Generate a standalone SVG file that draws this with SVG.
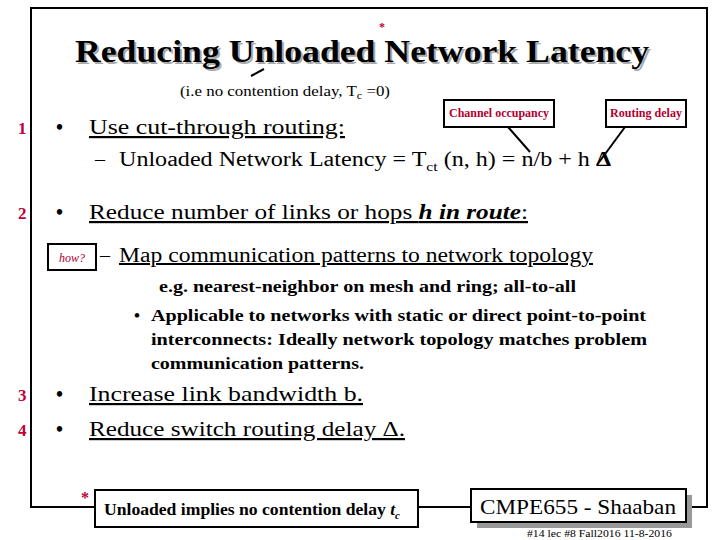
<svg xmlns="http://www.w3.org/2000/svg" width="720" height="540" viewBox="0 0 720 540" font-family="'Liberation Serif', 'Times New Roman', Times, serif">
<style>
text{font-family:'Liberation Serif','Times New Roman',Times,serif}
.b{font-weight:bold}
.num{fill:#c0003a;font-weight:bold;font-size:17px}
.h{font-size:22px;text-decoration:underline}
.red{fill:#b00030;font-weight:bold;font-size:12px}
.box{fill:#fff;stroke:#000;stroke-width:2}
.ln{stroke:#000;stroke-width:2;fill:none}
</style>
<rect x="31" y="8" width="676" height="499" class="ln" stroke-width="3"/>
<g id="title">
<text x="364" y="64" text-anchor="middle" font-size="32" class="b" fill="#aaa" textLength="574" lengthAdjust="spacingAndGlyphs">Reducing Unloaded Network Latency</text>
<text x="362" y="62" text-anchor="middle" font-size="32" class="b" textLength="574" lengthAdjust="spacingAndGlyphs">Reducing Unloaded Network Latency</text>
<text x="382" y="31" font-size="12" class="b" fill="#c0003a" text-anchor="middle">*</text>
<line x1="251" y1="76" x2="264" y2="69" class="ln"/>
<text x="180" y="96" font-size="14" textLength="210" lengthAdjust="spacingAndGlyphs">(i.e no contention delay, T<tspan font-size="10" dy="3">c</tspan><tspan dy="-3"> =0)</tspan></text>
</g>
<g id="callouts">
<rect x="444" y="100" width="110" height="27" class="box"/>
<text x="499" y="117" text-anchor="middle" class="red" textLength="100" lengthAdjust="spacingAndGlyphs">Channel occupancy</text>
<rect x="606" y="100" width="80" height="27" class="box"/>
<text x="646" y="117" text-anchor="middle" class="red" textLength="72" lengthAdjust="spacingAndGlyphs">Routing delay</text>
<line x1="508" y1="127" x2="530" y2="152" class="ln"/>
<line x1="625" y1="127" x2="597" y2="165" class="ln"/>
</g>
<g id="items">
<text x="18" y="134" class="num">1</text><text x="56" y="134" font-size="20" class="b">•</text>
<text x="89" y="134" class="h" textLength="256" lengthAdjust="spacingAndGlyphs">Use cut-through routing:</text>
<text x="95" y="166" font-size="20">–</text>
<text x="119" y="166" font-size="20" textLength="492" lengthAdjust="spacingAndGlyphs">Unloaded Network Latency = T<tspan font-size="13" dy="5">ct</tspan><tspan dy="-5"> (n,  h)  = n/b  + h </tspan><tspan font-weight="bold">Δ</tspan></text>
<text x="18" y="219" class="num">2</text><text x="56" y="219" font-size="20" class="b">•</text>
<text x="89" y="219" class="h" textLength="439" lengthAdjust="spacingAndGlyphs">Reduce number of links or hops <tspan font-weight="bold" font-style="italic">h in route</tspan>:</text>
<rect x="48" y="244" width="48" height="26" class="box"/>
<text x="72" y="262" text-anchor="middle" font-size="12" font-style="italic" fill="#b00030">how?</text>
<text x="100" y="262" font-size="20">–</text>
<text x="119" y="262" font-size="20" text-decoration="underline" textLength="474" lengthAdjust="spacingAndGlyphs">Map communication patterns to network topology</text>
<text x="159" y="292" font-size="17" class="b" textLength="417" lengthAdjust="spacingAndGlyphs">e.g. nearest-neighbor on mesh and ring; all-to-all</text>
<text x="134" y="321" font-size="17" class="b">•</text>
<text x="151" y="321" font-size="17" class="b" textLength="495" lengthAdjust="spacingAndGlyphs">Applicable to networks with static or direct point-to-point</text>
<text x="151" y="345" font-size="17" class="b" textLength="496" lengthAdjust="spacingAndGlyphs">interconnects:  Ideally network topology matches problem</text>
<text x="151" y="369" font-size="17" class="b" textLength="213" lengthAdjust="spacingAndGlyphs">communication patterns.</text>
<text x="18" y="401" class="num">3</text><text x="56" y="401" font-size="20" class="b">•</text>
<text x="89" y="401" class="h" textLength="274" lengthAdjust="spacingAndGlyphs">Increase link bandwidth b.</text>
<text x="18" y="436" class="num">4</text><text x="56" y="436" font-size="20" class="b">•</text>
<text x="89" y="436" class="h" textLength="316" lengthAdjust="spacingAndGlyphs">Reduce switch routing delay Δ.</text>
</g>
<g id="footer">
<text x="81" y="503" font-size="16" class="b" fill="#c0003a">*</text>
<rect x="95" y="490" width="323" height="37" class="box"/>
<text x="104" y="515" font-size="16" class="b" textLength="296" lengthAdjust="spacingAndGlyphs">Unloaded implies no contention delay <tspan font-style="italic">t</tspan><tspan font-size="10" dy="4" font-style="italic">c</tspan></text>
<rect x="477" y="495" width="215" height="33" fill="#999"/>
<rect x="471" y="489" width="215" height="33" class="box"/>
<text x="578" y="514" text-anchor="middle" font-size="22" textLength="196" lengthAdjust="spacingAndGlyphs">CMPE655 - Shaaban</text>
<text x="527" y="537" font-size="10" textLength="145" lengthAdjust="spacingAndGlyphs">#14   lec #8   Fall2016  11-8-2016</text>
</g>
</svg>
